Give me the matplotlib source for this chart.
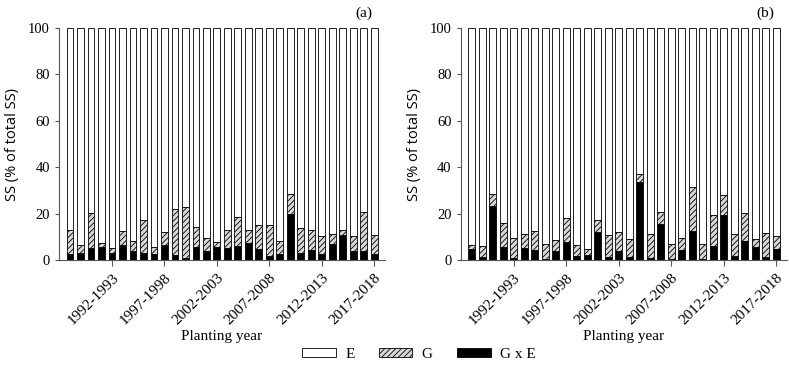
import matplotlib
matplotlib.use('Agg')
import matplotlib.pyplot as plt
import numpy as np
from matplotlib.patches import Patch

# planting years 1988-1989 ... 2017-2018
years = ['{}-{}'.format(y, y + 1) for y in range(1988, 2018)]
tick_years = ['1992-1993', '1997-1998', '2002-2003', '2007-2008', '2012-2013', '2017-2018']

# panel (a): G x E part and total (G + G x E), % of total SS
gxe_a = [2.6, 3.0, 5.0, 5.7, 3.0, 6.4, 3.7, 3.0, 2.6, 6.4,
         2.1, 1.0, 5.7, 3.9, 5.4, 5.3, 6.0, 7.4, 4.9, 1.7,
         2.7, 19.7, 2.9, 4.3, 2.7, 6.9, 10.6, 4.0, 4.0, 2.6]
total_a = [13.1, 6.4, 20.4, 7.4, 5.0, 12.4, 8.1, 17.4, 5.4, 12.0,
           21.9, 22.7, 14.3, 9.4, 7.9, 12.9, 18.6, 12.9, 15.3, 15.0,
           8.1, 28.3, 14.0, 12.9, 10.3, 11.1, 12.9, 10.3, 20.7, 10.6]

# panel (b)
gxe_b = [4.6, 1.4, 23.3, 5.4, 1.0, 5.0, 4.3, 0.4, 4.0, 7.9,
         1.6, 2.3, 12.0, 1.5, 3.9, 1.4, 33.6, 0.7, 15.4, 0.4,
         4.1, 12.3, 0.6, 6.1, 19.6, 1.7, 8.3, 5.6, 1.4, 4.6]
total_b = [6.4, 6.1, 28.4, 15.9, 9.3, 11.4, 12.4, 7.1, 8.6, 17.9,
           6.3, 4.6, 17.1, 10.7, 12.0, 9.0, 37.1, 11.1, 20.7, 6.9,
           9.4, 31.6, 7.1, 19.6, 28.1, 11.1, 20.3, 9.0, 11.7, 10.3]

plt.rcParams['font.family'] = ['Liberation Serif', 'DejaVu Serif']
plt.rcParams['hatch.linewidth'] = 0.6
plt.rcParams['hatch.color'] = '#333333'

fig = plt.figure(figsize=(7.89, 3.76), dpi=100)
ax_a = fig.add_axes([0.0748, 0.3085, 0.413, 0.617])
ax_b = fig.add_axes([0.584, 0.3085, 0.413, 0.617])

for ax, gxe, total, lab in [(ax_a, gxe_a, total_a, '(a)'), (ax_b, gxe_b, total_b, '(b)')]:
    x = np.arange(len(years))
    gxe = np.array(gxe)
    total = np.array(total)
    g = total - gxe
    e = 100 - total
    w = 0.66
    ax.bar(x, gxe, w, color='black', edgecolor='black', linewidth=0.6)
    ax.bar(x, g, w, bottom=gxe, color='#d8d8d8', edgecolor='black', linewidth=0.6, hatch='//////')
    ax.bar(x, e, w, bottom=total, color='white', edgecolor='black', linewidth=0.6)
    ax.set_xlim(-1.05, 30)
    ax.set_ylim(0, 100)
    ax.spines['top'].set_visible(False)
    ax.spines['right'].set_visible(False)
    ax.spines['left'].set_color('#555555')
    ax.spines['bottom'].set_color('#555555')
    ax.set_yticks([0, 20, 40, 60, 80, 100])
    ax.tick_params(axis='y', labelsize=10.5, length=3, color='#555555')
    ticks = [years.index(t) for t in tick_years]
    ax.set_xticks(ticks)
    ax.set_xticklabels(tick_years, rotation=45, ha='right', rotation_mode='anchor', fontsize=11)
    ax.tick_params(axis='x', length=4, color='#555555', pad=4)
    ax.set_xlabel('Planting year', fontsize=11, labelpad=2)
    ax.set_ylabel('SS (% of total SS)', fontsize=10.5, family=['Open Sans', 'DejaVu Sans'], labelpad=6)
    ax.text(0.935, 1.035, lab, transform=ax.transAxes, fontsize=11, ha='center', va='bottom')

handles = [Patch(facecolor='white', edgecolor='black', linewidth=0.6, label='E'),
           Patch(facecolor='#d8d8d8', edgecolor='black', linewidth=0.6, hatch='//////', label='G'),
           Patch(facecolor='black', edgecolor='black', linewidth=0.6, label='G x E')]
fig.legend(handles=handles, loc='center', bbox_to_anchor=(0.531, 0.058), ncol=3, frameon=False,
           fontsize=11, handlelength=2.2, handleheight=0.5, columnspacing=1.6, handletextpad=0.6)

fig.savefig('out.png', dpi=100)
